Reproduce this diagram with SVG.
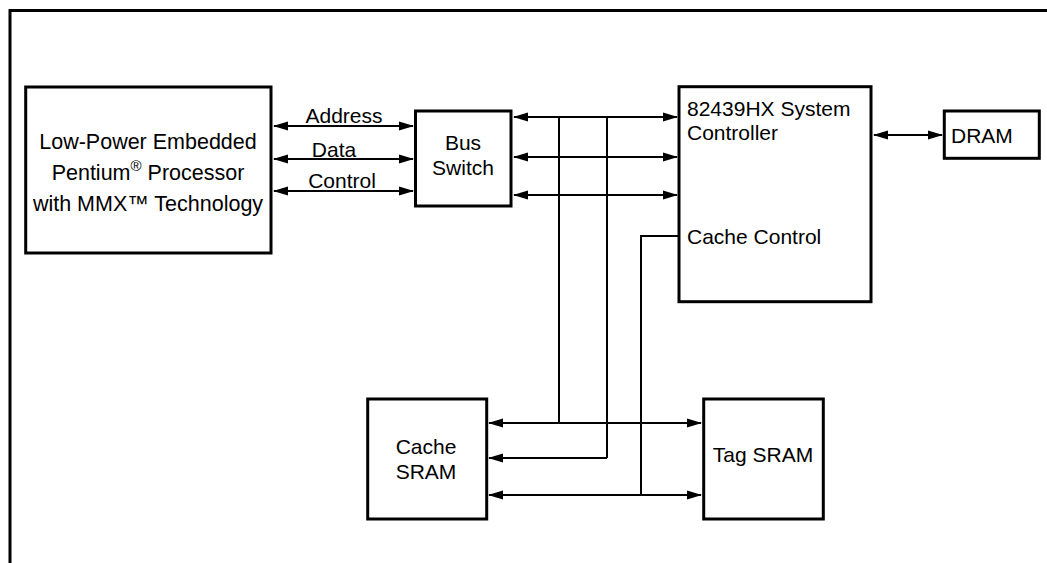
<svg xmlns="http://www.w3.org/2000/svg" width="1047" height="563" viewBox="0 0 1047 563">
<style>
.box{fill:#fff;stroke:#000;stroke-width:3}
.ln{fill:none;stroke:#000;stroke-width:2}
.ar{marker-start:url(#ah);marker-end:url(#ah)}
.t{font-family:"Liberation Sans",Arial,Helvetica,sans-serif;font-size:21px;fill:#000}
.p{font-size:21.5px}
.m{text-anchor:middle}
</style>
<defs>
<marker id="ah" viewBox="0 0 15 10" refX="14" refY="5" markerWidth="15" markerHeight="10" markerUnits="userSpaceOnUse" orient="auto-start-reverse">
<path d="M0,0.5 L15,5 L0,9.5 z" fill="#000"/>
</marker>
</defs>
<rect width="1047" height="563" fill="#fff"/>
<g id="frame">
<path d="M10,563 V10.5 H1047" fill="none" stroke="#000" stroke-width="3"/>
</g>
<g id="connectors">
<line class="ln ar" x1="274" y1="126" x2="413" y2="126"/>
<line class="ln ar" x1="274" y1="159" x2="413" y2="159"/>
<line class="ln ar" x1="274" y1="191" x2="413" y2="191"/>
<line class="ln ar" x1="514" y1="117" x2="677" y2="117"/>
<line class="ln ar" x1="514" y1="157" x2="677" y2="157"/>
<line class="ln ar" x1="514" y1="195" x2="677" y2="195"/>
<line class="ln ar" x1="874" y1="135" x2="942" y2="135"/>
<line class="ln" x1="559" y1="117" x2="559" y2="423"/>
<line class="ln" x1="607" y1="117" x2="607" y2="458"/>
<path class="ln" d="M679,236 H641 V496"/>
<line class="ln ar" x1="489" y1="423" x2="701" y2="423"/>
<path class="ln" d="M607,458 H489" marker-end="url(#ah)"/>
<line class="ln ar" x1="489" y1="495" x2="701" y2="495"/>
<text class="t m" x="344" y="123">Address</text>
<text class="t m" x="334" y="157">Data</text>
<text class="t m" x="342" y="188">Control</text>
</g>
<g id="processor">
<rect class="box" x="25.7" y="87" width="245.3" height="166"/>
<text class="t p m" x="148" y="149">Low-Power Embedded</text>
<text class="t p m" x="148" y="180">Pentium<tspan font-size="15" dy="-9">®</tspan><tspan dy="9"> Processor</tspan></text>
<text class="t p m" x="148" y="211">with MMX™ Technology</text>
</g>
<g id="bus-switch">
<rect class="box" x="415.5" y="111" width="95.5" height="95"/>
<text class="t m" x="463" y="150">Bus</text>
<text class="t m" x="463" y="175">Switch</text>
</g>
<g id="controller">
<rect class="box" x="679" y="86.7" width="192" height="215"/>
<text class="t" x="687" y="115.5">82439HX System</text>
<text class="t" x="687" y="140">Controller</text>
<text class="t" x="687" y="244">Cache Control</text>
</g>
<g id="dram">
<rect class="box" x="944.3" y="111" width="95" height="47.3"/>
<text class="t" x="951" y="142.7">DRAM</text>
</g>
<g id="cache-sram">
<rect class="box" x="367.7" y="399" width="119" height="120"/>
<text class="t m" x="426" y="454">Cache</text>
<text class="t m" x="426" y="479">SRAM</text>
</g>
<g id="tag-sram">
<rect class="box" x="703.7" y="399" width="119.6" height="120"/>
<text class="t m" x="763" y="462">Tag SRAM</text>
</g>
</svg>
